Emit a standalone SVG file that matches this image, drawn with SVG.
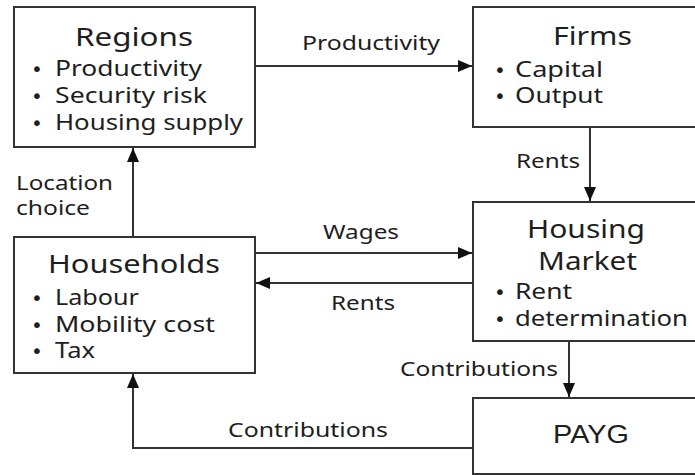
<svg xmlns="http://www.w3.org/2000/svg" width="695" height="475" viewBox="0 0 695 475">
<style>
.box{fill:#fff;stroke:#333;stroke-width:2}
.t{font-family:"Noto Sans","Open Sans","DejaVu Sans",sans-serif;fill:#1e1e1e}
.title{font-size:26px}
.item{font-size:21px}
.lbl{font-size:19px}
.bul{font-family:"DejaVu Sans",sans-serif;font-size:20px;fill:#1e1e1e}
.pay{font-family:"Liberation Sans",Arial,sans-serif;font-size:25px;fill:#1e1e1e}
.c{fill:none;stroke:#333;stroke-width:2}
</style>
<defs>
<marker id="ah" markerUnits="userSpaceOnUse" markerWidth="14" markerHeight="12" viewBox="0 0 14 12" refX="14" refY="6" orient="auto">
<path d="M0,0 L14,6 L0,12 Z" fill="#111"/>
</marker>
</defs>
<rect width="695" height="475" fill="#fff"/>
<g id="connectors">
<path class="c" d="M255,66 H472" marker-end="url(#ah)"/>
<path class="c" d="M590,127 V201" marker-end="url(#ah)"/>
<path class="c" d="M255,253 H472" marker-end="url(#ah)"/>
<path class="c" d="M473,283 H256" marker-end="url(#ah)"/>
<path class="c" d="M133,237 V148" marker-end="url(#ah)"/>
<path class="c" d="M569,341 V397" marker-end="url(#ah)"/>
<path class="c" d="M473,448 H133 V374" marker-end="url(#ah)"/>
<text class="t lbl" x="302" y="50" textLength="138" lengthAdjust="spacingAndGlyphs">Productivity</text>
<text class="t lbl" x="516" y="168" textLength="64" lengthAdjust="spacingAndGlyphs">Rents</text>
<text class="t lbl" x="16" y="190" textLength="97" lengthAdjust="spacingAndGlyphs">Location</text>
<text class="t lbl" x="16" y="215" textLength="74" lengthAdjust="spacingAndGlyphs">choice</text>
<text class="t lbl" x="323" y="239" textLength="76" lengthAdjust="spacingAndGlyphs">Wages</text>
<text class="t lbl" x="331" y="310" textLength="64" lengthAdjust="spacingAndGlyphs">Rents</text>
<text class="t lbl" x="400" y="376" textLength="158" lengthAdjust="spacingAndGlyphs">Contributions</text>
<text class="t lbl" x="228" y="437" textLength="160" lengthAdjust="spacingAndGlyphs">Contributions</text>
</g>
<g id="regions">
<rect class="box" x="14" y="7" width="241" height="140"/>
<text class="t title" x="75" y="46" textLength="118" lengthAdjust="spacingAndGlyphs">Regions</text>
<text class="bul" x="31" y="76">•</text>
<text class="t item" x="55" y="76" textLength="147" lengthAdjust="spacingAndGlyphs">Productivity</text>
<text class="bul" x="31" y="103">•</text>
<text class="t item" x="55" y="103" textLength="152" lengthAdjust="spacingAndGlyphs">Security risk</text>
<text class="bul" x="31" y="130">•</text>
<text class="t item" x="55" y="130" textLength="188" lengthAdjust="spacingAndGlyphs">Housing supply</text>
</g>
<g id="firms">
<rect class="box" x="473" y="7" width="230" height="120"/>
<text class="t title" x="553" y="45" textLength="79" lengthAdjust="spacingAndGlyphs">Firms</text>
<text class="bul" x="494" y="77">•</text>
<text class="t item" x="515" y="77" textLength="88" lengthAdjust="spacingAndGlyphs">Capital</text>
<text class="bul" x="494" y="103">•</text>
<text class="t item" x="515" y="103" textLength="88" lengthAdjust="spacingAndGlyphs">Output</text>
</g>
<g id="housing-market">
<rect class="box" x="473" y="202" width="230" height="139"/>
<text class="t title" x="527" y="238" textLength="118" lengthAdjust="spacingAndGlyphs">Housing</text>
<text class="t title" x="538" y="270" textLength="99" lengthAdjust="spacingAndGlyphs">Market</text>
<text class="bul" x="494" y="299">•</text>
<text class="t item" x="515" y="299" textLength="57" lengthAdjust="spacingAndGlyphs">Rent</text>
<text class="bul" x="494" y="326">•</text>
<text class="t item" x="515" y="326" textLength="173" lengthAdjust="spacingAndGlyphs">determination</text>
</g>
<g id="households">
<rect class="box" x="14" y="237" width="241" height="136"/>
<text class="t title" x="48" y="273" textLength="172" lengthAdjust="spacingAndGlyphs">Households</text>
<text class="bul" x="31" y="305">•</text>
<text class="t item" x="55" y="305" textLength="84" lengthAdjust="spacingAndGlyphs">Labour</text>
<text class="bul" x="31" y="332">•</text>
<text class="t item" x="55" y="332" textLength="160" lengthAdjust="spacingAndGlyphs">Mobility cost</text>
<text class="bul" x="31" y="358">•</text>
<text class="t item" x="55" y="358" textLength="40" lengthAdjust="spacingAndGlyphs">Tax</text>
</g>
<g id="payg">
<rect class="box" x="473" y="398" width="230" height="76"/>
<text class="pay" x="553" y="443" textLength="76" lengthAdjust="spacingAndGlyphs">PAYG</text>
</g>
</svg>
